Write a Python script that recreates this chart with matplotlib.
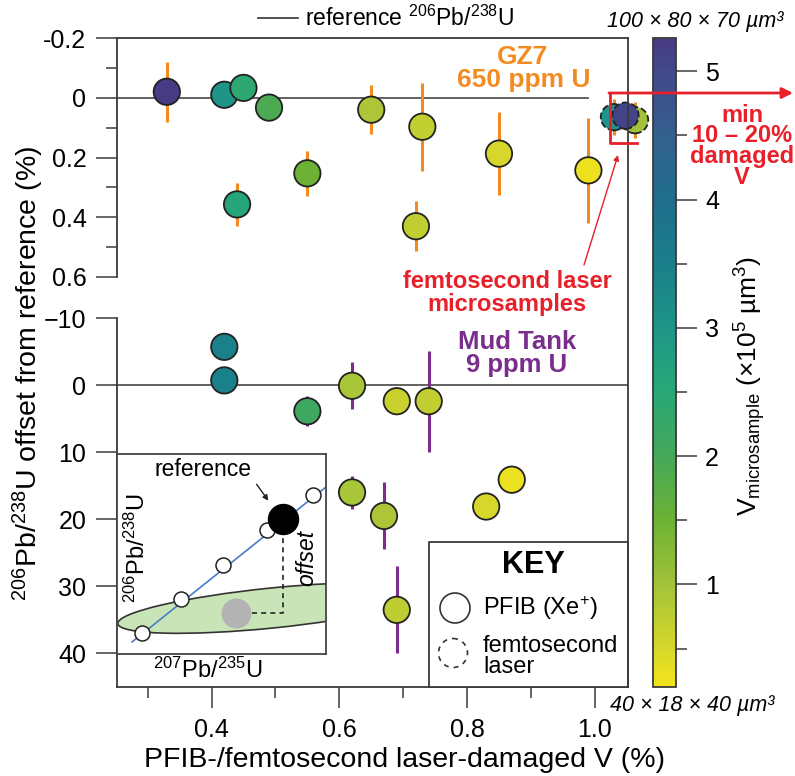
import numpy as np
import matplotlib
matplotlib.use("Agg")
import matplotlib.pyplot as plt
from matplotlib.colors import LinearSegmentedColormap, Normalize
from matplotlib.patches import Ellipse, Circle
from matplotlib.cm import ScalarMappable
from matplotlib.ticker import FixedLocator

plt.rcParams['font.family'] = ['Liberation Sans', 'DejaVu Sans']
plt.rcParams['mathtext.fontset'] = 'custom'
plt.rcParams['mathtext.rm'] = 'Liberation Sans'
plt.rcParams['mathtext.it'] = 'Liberation Sans:italic'
plt.rcParams['mathtext.bf'] = 'Liberation Sans:bold'

# ---------------- data ----------------
gz7_x = [0.33, 0.42, 0.45, 0.49, 0.44, 0.55, 0.65, 0.73, 0.85, 0.99, 0.72]
gz7_y = [-0.02, -0.01, -0.033, 0.033, 0.357, 0.253, 0.04, 0.097, 0.187, 0.243, 0.43]
gz7_err = [0.10, 0, 0, 0, 0.073, 0.075, 0.083, 0.148, 0.138, 0.175, 0.083]
gz7_v = [5.26, 3.0, 2.4, 1.9, 2.6, 1.5, 0.9, 0.7, 0.5, 0.26, 0.72]

femto_x = [1.03, 1.063, 1.048]
femto_y = [0.065, 0.075, 0.06]
femto_err = [0.06, 0.06, 0]
femto_v = [3.0, 1.0, 5.1]

mud_x = [0.42, 0.42, 0.55, 0.62, 0.69, 0.74, 0.62, 0.67, 0.69, 0.87, 0.83]
mud_y = [-5.7, -0.7, 3.9, 0.1, 2.4, 2.4, 16.0, 19.5, 33.5, 14.1, 18.1]
mud_err = [0, 0, 2.2, 3.5, 0, 7.5, 2.5, 5.0, 6.5, 0, 0]
mud_v = [3.45, 3.45, 2.1, 0.95, 0.65, 0.72, 0.95, 0.9, 0.75, 0.28, 0.5]

x_major = [0.4, 0.6, 0.8, 1.0]
x_minor = [0.3, 0.5, 0.7, 0.9]
top_yticks = [-0.2, 0, 0.2, 0.4, 0.6]
top_ylabels = ['-0.2', '0', '0.2', '0.4', '0.6']
top_yminor = [-0.1, 0.1, 0.3, 0.5]
bot_yticks = [-10, 0, 10, 20, 30, 40]
bot_ylabels = ['\u221210', '0', '10', '20', '30', '40']
cb_ticks = [1, 2, 3, 4, 5]
cb_minor = [0.5, 1.5, 2.5, 3.5, 4.5]
v_min, v_max = 0.2, 5.26

# colour scale anchors
cb_anchor_v = [0.2, 0.5, 1.0, 1.5, 2.0, 2.5, 3.0, 3.5, 4.0, 4.5, 5.0, 5.26]
cb_anchor_c = ['#f3e41c', '#d6d72a', '#a2c23a', '#6cb234', '#45a85a', '#28a877',
               '#1e9588', '#1a7f8a', '#1f6e8c', '#33608d', '#41498b', '#473b84']

# inset schematic (in pixel-like units of the inset box)
concordia_x = [132, 326]
concordia_y = [642, 487]
open_pts_x = [142, 181, 223, 267, 313]
open_pts_y = [633, 599, 565, 530, 495]
ref_pt = (283, 519)
meas_pt = (236, 613)

# ---------------- style ----------------
W, H = 795, 776
ORANGE = '#f38b20'
PURPLE = '#7b2d8c'
RED = '#e8202a'
SPINE = '#3a3a3a'

cmap = LinearSegmentedColormap.from_list(
    'vol', [((v - v_min) / (v_max - v_min), c) for v, c in zip(cb_anchor_v, cb_anchor_c)])
norm = Normalize(v_min, v_max)

fig = plt.figure(figsize=(W / 100, H / 100), dpi=100)


def fpos(x0, y0, x1, y1):
    return [x0 / W, 1 - y1 / H, (x1 - x0) / W, (y1 - y0) / H]


def style_axis(ax):
    ax.tick_params(axis='both', which='major', length=15, width=1.1, color=SPINE,
                   labelsize=18, pad=7)
    ax.tick_params(axis='both', which='minor', length=8, width=1.1, color=SPINE)
    for s in ax.spines.values():
        s.set_color(SPINE)
        s.set_linewidth(1.3)


XL = (0.252, 1.052)
MS = 360
EDGE = dict(edgecolors='#222222', linewidths=1.3)

# top panel
ax1 = fig.add_axes(fpos(117, 38, 628, 277))
ax1.set_xlim(*XL)
ax1.set_ylim(0.6, -0.2)
style_axis(ax1)
ax1.spines['bottom'].set_visible(False)
ax1.spines['right'].set_visible(False)
ax1.set_xticks([])
ax1.set_yticks(top_yticks)
ax1.set_yticklabels(top_ylabels)
ax1.yaxis.set_minor_locator(FixedLocator(top_yminor))
ax1.plot([XL[0], 0.99], [0, 0], color='#555555', lw=1.3, zorder=1)
ax1.errorbar(gz7_x, gz7_y, yerr=gz7_err, fmt='none', ecolor=ORANGE, elinewidth=2.2,
             capsize=0, zorder=2)
ax1.scatter(gz7_x, gz7_y, c=gz7_v, cmap=cmap, norm=norm, s=MS, zorder=3, **EDGE)
ax1.errorbar(femto_x[:2], femto_y[:2], yerr=femto_err[:2], fmt='none', ecolor=ORANGE,
             elinewidth=2.2, capsize=0, zorder=4, clip_on=False)
for i in range(len(femto_x)):
    ax1.scatter([femto_x[i]], [femto_y[i]], c=[femto_v[i]], cmap=cmap, norm=norm, s=MS,
                linestyles='--', zorder=5 + i, clip_on=False, **EDGE)

# bottom panel
ax2 = fig.add_axes(fpos(117, 318, 628, 687))
ax2.set_xlim(*XL)
ax2.set_ylim(45, -10)
style_axis(ax2)
ax2.spines['top'].set_visible(False)
ax2.spines['right'].set_visible(False)
ax2.set_xticks(x_major)
ax2.set_xticklabels(['0.4', '0.6', '0.8', '1.0'])
ax2.xaxis.set_minor_locator(FixedLocator(x_minor))
ax2.set_yticks(bot_yticks)
ax2.set_yticklabels(bot_ylabels)
ax2.axhline(0, color='#555555', lw=1.3, zorder=1)
ax2.errorbar(mud_x, mud_y, yerr=mud_err, fmt='none', ecolor=PURPLE, elinewidth=2.2,
             capsize=0, zorder=2)
ax2.scatter(mud_x, mud_y, c=mud_v, cmap=cmap, norm=norm, s=MS, zorder=3, **EDGE)

# colorbar
cax = fig.add_axes(fpos(653, 38, 676, 687))
cb = fig.colorbar(ScalarMappable(norm=norm, cmap=cmap), cax=cax)
cb.set_ticks(cb_ticks)
cb.ax.yaxis.set_minor_locator(FixedLocator(cb_minor))
cb.ax.tick_params(which='major', length=15, width=1.1, color=SPINE, labelsize=18, pad=6)
cb.ax.tick_params(which='minor', length=8, width=1.1, color=SPINE)
cb.outline.set_edgecolor(SPINE)
cb.outline.set_linewidth(1.3)

# inset schematic
axi = fig.add_axes(fpos(117, 454, 326, 654), zorder=5)
axi.set_xlim(117, 326)
axi.set_ylim(654, 454)
axi.set_xticks([])
axi.set_yticks([])
for s in axi.spines.values():
    s.set_color('#444444')
    s.set_linewidth(1.3)
axi.add_patch(Ellipse((272, 608), 310, 40, angle=-5.8, facecolor='#c9e5b8',
                      edgecolor='#333333', lw=1.2, zorder=1))
axi.plot(concordia_x, concordia_y, color='#4a7cc7', lw=1.2, zorder=2)
axi.plot(open_pts_x, open_pts_y, 'o', ms=10.8, mfc='white', mec='#222222', mew=1.1, zorder=3)
axi.plot([ref_pt[0], ref_pt[0], meas_pt[0] + 14], [ref_pt[1] + 10, meas_pt[1], meas_pt[1]],
         color='#222222', lw=1.2, ls=(0, (3, 2.5)), zorder=2)
axi.plot(*meas_pt, 'o', ms=21.6, mfc='#b3b3b3', mec='none', zorder=3)
axi.plot(*ref_pt, 'o', ms=21.6, mfc='black', mec='black', zorder=4)
axi.text(203, 470, 'reference', fontsize=16.5, ha='center', va='center')
axi.annotate('', xy=(270, 503), xytext=(255, 482),
             arrowprops=dict(arrowstyle='-|>', color='#222222', lw=1, mutation_scale=8))
axi.text(307, 558, 'offset', fontsize=16.5, style='italic', rotation=90,
         ha='center', va='center')
axi.text(137, 548, r'$^{206}$Pb/$^{238}$U', fontsize=17, rotation=90,
         ha='center', va='center')

# overlay for annotations (pixel coordinates)
ov = fig.add_axes([0, 0, 1, 1], zorder=10)
ov.set_xlim(0, W)
ov.set_ylim(H, 0)
ov.axis('off')
ov.patch.set_alpha(0)

# right frame line running through both panels
ov.plot([628, 628], [38, 687], color=SPINE, lw=1.3)

# top legend
ov.plot([258, 298], [18, 18], color='#333333', lw=1.2)
ov.text(305, 18, r'reference $^{206}$Pb/$^{238}$U', fontsize=16.5, ha='left', va='center')

# axis labels
ov.text(28, 373, r'$^{206}$Pb/$^{238}$U offset from reference (%)', fontsize=20.5,
        rotation=90, ha='center', va='center')
ov.text(405, 760, 'PFIB-/femtosecond laser-damaged V (%)', fontsize=20.5,
        ha='center', va='center')
ov.text(750, 386, r'V$_{\mathregular{microsample}}$ (×10$^{5}$ µm$^{3}$)', fontsize=19,
        rotation=90, ha='center', va='center')
ov.text(695, 22, '100 × 80 × 70 µm³', fontsize=15.5, style='italic', ha='center', va='center')
ov.text(692, 705, '40 × 18 × 40 µm³', fontsize=15.5, style='italic', ha='center', va='center')
ov.text(208, 670, r'$^{207}$Pb/$^{235}$U', fontsize=17, ha='center', va='center')

# sample labels
ov.text(523, 57, 'GZ7', fontsize=19, fontweight='bold', color=ORANGE, ha='center', va='center')
ov.text(524, 80, '650 ppm U', fontsize=19, fontweight='bold', color=ORANGE, ha='center', va='center')
ov.text(517, 342, 'Mud Tank', fontsize=18.5, fontweight='bold', color=PURPLE, ha='center', va='center')
ov.text(517, 365, '9 ppm U', fontsize=18.5, fontweight='bold', color=PURPLE, ha='center', va='center')

# red annotations
ov.plot([637, 610, 610], [143, 143, 93], color=RED, lw=2)
ov.annotate('', xy=(793, 93), xytext=(609, 93),
            arrowprops=dict(arrowstyle='-|>', color=RED, lw=2, mutation_scale=16,
                            shrinkA=0, shrinkB=0))
for txt, yy in zip(['min', '10 – 20%', 'damaged', 'V'], [115, 136, 157, 178]):
    ov.text(742, yy, txt, fontsize=17, fontweight='bold', color=RED, ha='center', va='center')
ov.text(507, 282, 'femtosecond laser', fontsize=17, fontweight='bold', color=RED,
        ha='center', va='center')
ov.text(507, 304, 'microsamples', fontsize=17, fontweight='bold', color=RED,
        ha='center', va='center')
ov.annotate('', xy=(618, 155), xytext=(584, 265),
            arrowprops=dict(arrowstyle='-|>', color=RED, lw=1, mutation_scale=8,
                            shrinkA=0, shrinkB=0))

# key box
ov.plot([429, 628, 628, 429, 429], [687, 687, 542, 542, 687], color=SPINE, lw=1.3)
ov.add_patch(plt.Rectangle((429, 542), 199, 145, facecolor='white', edgecolor='none', zorder=0))
ov.text(533, 565, 'KEY', fontsize=22, fontweight='bold', ha='center', va='center')
ov.add_patch(Circle((455, 608), 15, facecolor='white', edgecolor='#333333', lw=1.2))
ov.text(483, 608, 'PFIB (Xe$^{+}$)', fontsize=17, ha='left', va='center')
ov.add_patch(Circle((453, 653), 14.5, fill=False, edgecolor='#333333', lw=1.2, ls=(0, (3, 3))))
ov.text(483, 646, 'femtosecond', fontsize=17, ha='left', va='center')
ov.text(483, 667, 'laser', fontsize=17, ha='left', va='center')

fig.savefig('out.png', dpi=100)
